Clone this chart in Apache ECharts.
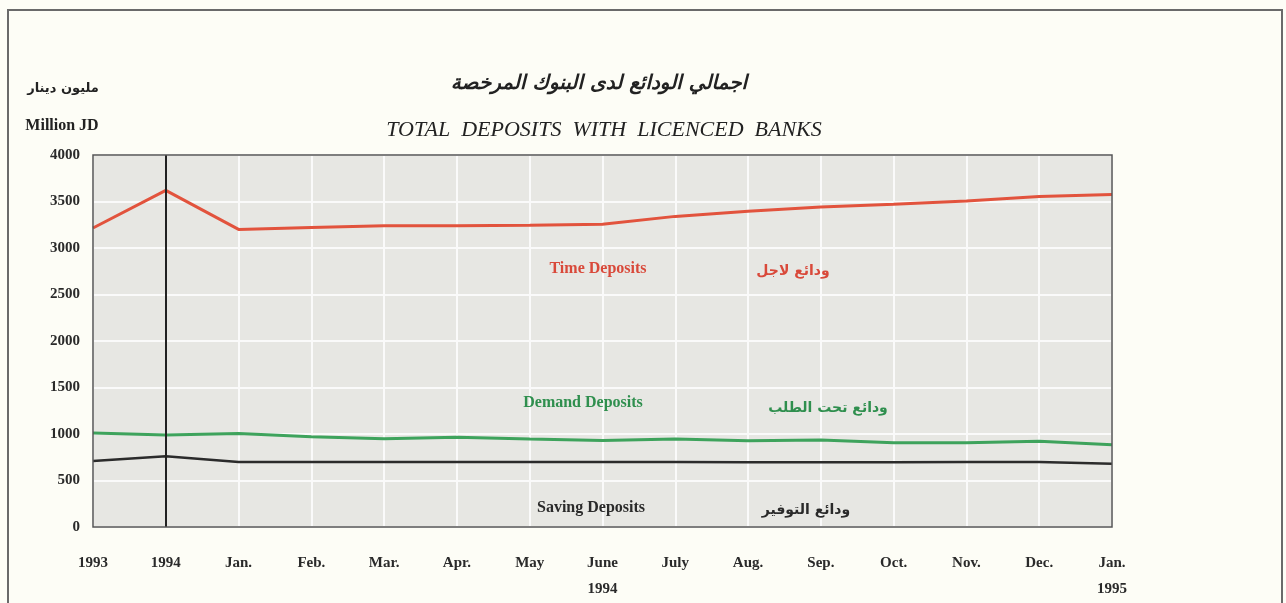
<!DOCTYPE html>
<html lang="en">
<head>
<meta charset="UTF-8">
<title>Total Deposits with Licenced Banks</title>
<style>
  html, body {margin:0; padding:0; background:#fdfdf6}
  #chart {width:1286px; height:603px}
</style>
<script src="https://cdn.jsdelivr.net/npm/echarts@6/dist/echarts.min.js"></script>
</head>
<body>
<div id="chart"></div>
<script>
// categories along the x axis
const months = ['1993', '1994', 'Jan.', 'Feb.', 'Mar.', 'Apr.', 'May', 'June\n1994', 'July', 'Aug.', 'Sep.', 'Oct.', 'Nov.', 'Dec.', 'Jan.\n1995']
// million JD
const timeDeposits   = [3215, 3620, 3200, 3220, 3240, 3240, 3245, 3255, 3340, 3395, 3440, 3470, 3505, 3555, 3575]
const demandDeposits = [1010, 990, 1005, 970, 948, 965, 945, 930, 945, 928, 935, 905, 905, 922, 885]
const savingDeposits = [710, 762, 700, 698, 698, 700, 700, 700, 698, 695, 695, 695, 698, 700, 680]
const yTicks = [0, 4000, 500]

const serif = '"Liberation Serif", "DejaVu Serif", serif'
const W = 1286, H = 603
const plot = {left: 93, right: 174, top: 155, bottom: 76}

let chart = echarts.init(document.getElementById('chart'))

function label(x, y, text, font, fill) {
  return {type: 'text', x: x, y: y, z: 100, style: {text: text, font: font, fill: fill, align: 'center', verticalAlign: 'middle'}}
}

let option = {
  backgroundColor: '#fdfdf6',
  animation: false,
  grid: {
    left: plot.left, right: plot.right, top: plot.top, bottom: plot.bottom,
    outerBoundsMode: 'none', containLabel: false,
    show: true, backgroundColor: '#e7e7e3', borderWidth: 0
  },
  xAxis: {
    type: 'category',
    data: months,
    boundaryGap: false,
    axisLine: {show: false},
    axisTick: {show: false},
    axisLabel: {
      color: '#2a2a2a', fontFamily: serif, fontWeight: 'bold', fontSize: 15,
      margin: 23, lineHeight: 26, verticalAlign: 'top'
    },
    splitLine: {show: true, lineStyle: {color: '#fafafa', width: 2}}
  },
  yAxis: {
    type: 'value',
    min: yTicks[0], max: yTicks[1], interval: yTicks[2],
    axisLine: {show: false},
    axisTick: {show: false},
    axisLabel: {color: '#2a2a2a', fontFamily: serif, fontWeight: 'bold', fontSize: 15, margin: 13, formatter: v => String(v)},
    splitLine: {show: true, lineStyle: {color: '#fafafa', width: 2}}
  },
  series: [
    {
      name: 'Time Deposits', type: 'line', data: timeDeposits,
      symbol: 'none', lineStyle: {color: '#e2533d', width: 3},
      markLine: {
        silent: true, symbol: 'none', label: {show: false},
        lineStyle: {color: '#222', width: 2, type: 'solid'},
        data: [{xAxis: '1994'}]
      }
    },
    {
      name: 'Demand Deposits', type: 'line', data: demandDeposits,
      symbol: 'none', lineStyle: {color: '#3ea35c', width: 3}
    },
    {
      name: 'Saving Deposits', type: 'line', data: savingDeposits,
      symbol: 'none', lineStyle: {color: '#2b2b2b', width: 2.5}
    }
  ],
  graphic: [
    {type: 'rect', z: 90, shape: {x: 8, y: 10, width: 1274, height: 600}, style: {fill: 'none', stroke: '#6a6a6a', lineWidth: 2}},
    // frame of the plot area
    {type: 'rect', z: 90, shape: {x: plot.left, y: plot.top, width: W - plot.left - plot.right, height: H - plot.top - plot.bottom}, style: {fill: 'none', stroke: '#555', lineWidth: 1.5}},
    label(599, 84, 'اجمالي الودائع لدى البنوك المرخصة', 'italic bold 20px "DejaVu Sans"', '#222'),
    label(604, 130, 'TOTAL  DEPOSITS  WITH  LICENCED  BANKS', 'italic 22px ' + serif, '#222'),
    label(63, 89, 'مليون دينار', 'bold 13px "DejaVu Sans"', '#222'),
    label(62, 126, 'Million JD', 'bold 16px ' + serif, '#222'),
    label(598, 269, 'Time Deposits', 'bold 16px ' + serif, '#d9493a'),
    label(793, 271, 'ودائع لاجل', 'bold 14px "DejaVu Sans"', '#d9493a'),
    label(583, 403, 'Demand Deposits', 'bold 16px ' + serif, '#2f8f4e'),
    label(828, 408, 'ودائع تحت الطلب', 'bold 14px "DejaVu Sans"', '#2f8f4e'),
    label(591, 508, 'Saving Deposits', 'bold 16px ' + serif, '#2a2a2a'),
    label(806, 510, 'ودائع التوفير', 'bold 14px "DejaVu Sans"', '#2a2a2a')
  ]
}

chart.setOption(option)
</script>
</body>
</html>
